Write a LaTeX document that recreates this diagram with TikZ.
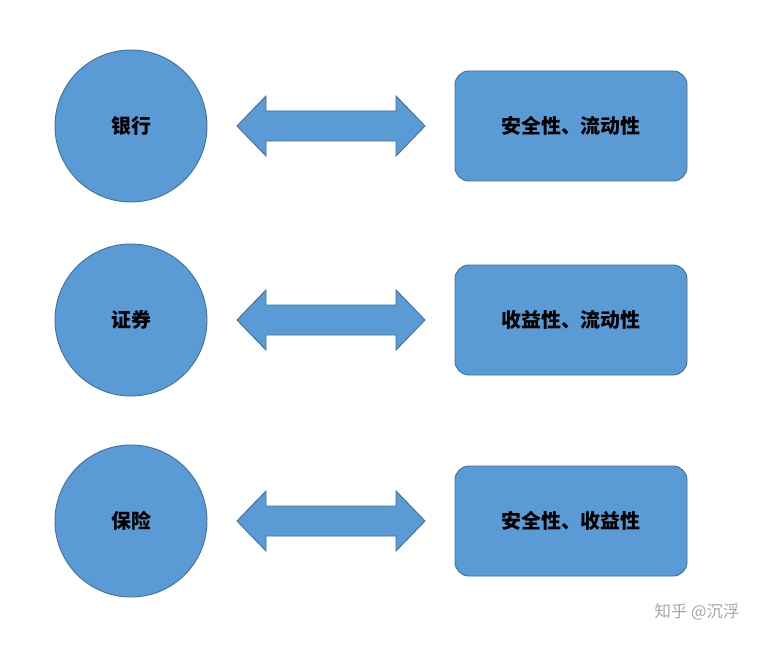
\documentclass[tikz,border=0pt]{standalone}
\usepackage{fontspec}
\newfontfamily\cjk{Noto Sans CJK SC}
\usetikzlibrary{positioning}
\definecolor{boxfill}{HTML}{5B9BD5}
\definecolor{boxline}{HTML}{41719C}
\tikzset{
    inst/.style={circle, draw=boxline, fill=boxfill, line width=0.8pt, minimum size=152*0.03cm, inner sep=0pt, font=\cjk\bfseries\fontsize{17}{20}\selectfont},
    prop/.style={rectangle, rounded corners=0.42cm, draw=boxline, fill=boxfill, line width=0.8pt, minimum width=232*0.03cm, minimum height=110*0.03cm, font=\cjk\bfseries\fontsize{17}{20}\selectfont},
    dblarrow/.style={draw=boxline, fill=boxfill, line width=0.8pt}
}
\begin{document}
\begin{tikzpicture}[x=0.03cm, y=-0.03cm]
    \useasboundingbox (0,0) rectangle (779,646);

    % institutions and their properties
    \foreach \name/\txt/\prp/\y in {bank/银行/安全性、流动性/126, sec/证券/收益性、流动性/320, ins/保险/安全性、收益性/521} {
        \node[inst] (\name) at (131,\y) {\txt};
        \node[prop] (\name p) at (571,\y) {\prp};
        % double arrow
        \draw[dblarrow] (237,\y) -- (266,\y-30) -- (266,\y-15) -- (396,\y-15) -- (396,\y-30)
            -- (425,\y) -- (396,\y+30) -- (396,\y+15) -- (266,\y+15) -- (266,\y+30) -- cycle;
    }

    % watermark
    \node[text=gray!70, font=\cjk\fontsize{14}{16}\selectfont] (mark) at (697,612) {知乎 @沉浮};
\end{tikzpicture}
\end{document}
